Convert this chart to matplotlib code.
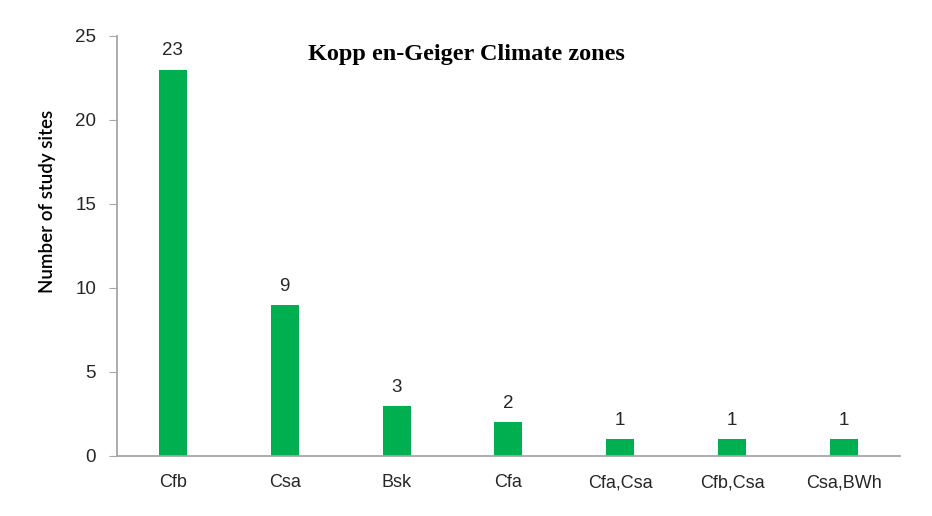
import matplotlib
matplotlib.use("Agg")
import matplotlib.pyplot as plt

zones = ["Cfb", "Csa", "Bsk", "Cfa", "Cfa,Csa", "Cfb,Csa", "Csa,BWh"]
sites = [23, 9, 3, 2, 1, 1, 1]
yticks = [0, 5, 10, 15, 20, 25]

plt.rcParams['font.family'] = ['Liberation Sans', 'DejaVu Sans']
fig = plt.figure(figsize=(9.32, 5.16), dpi=100)
ax = fig.add_axes([0.1255, 0.1163, 0.84, 0.814])

x = range(len(zones))
bars = ax.bar(x, sites, width=0.25, color="#00B050")
for xi, v in zip(x, sites):
    ax.text(xi, v + 0.6, str(v), ha="center", va="bottom", fontsize=13.5, color="#262626")

ax.set_xlim(-0.5, len(zones) - 0.5)
ax.set_ylim(0, 25)
ax.set_yticks(yticks)
ax.set_xticks(list(x))
ax.set_xticklabels(zones, fontsize=13, color="#262626")
ax.tick_params(axis="y", labelsize=13.5, colors="#262626", length=6, color="#A6A6A6", pad=9)
ax.tick_params(axis="x", length=0, pad=13)
for s in ("top", "right"):
    ax.spines[s].set_visible(False)
for s in ("left", "bottom"):
    ax.spines[s].set_color("#A6A6A6")
    ax.spines[s].set_linewidth(1.3)

# y label sits above centre in the original
fig.text(48 / 932, 1 - 201 / 516, "Number of study sites", rotation=90, ha="center", va="center",
         fontsize=13.5, fontweight="semibold", family=["Lato", "Liberation Sans"], color="#000000")
ax.text(0.447, 0.955, "Kopp en-Geiger Climate zones", transform=ax.transAxes, ha="center", va="center",
        fontsize=17.5, fontweight="bold", family=["Liberation Serif", "DejaVu Serif"])

fig.savefig("out.png", dpi=100)
